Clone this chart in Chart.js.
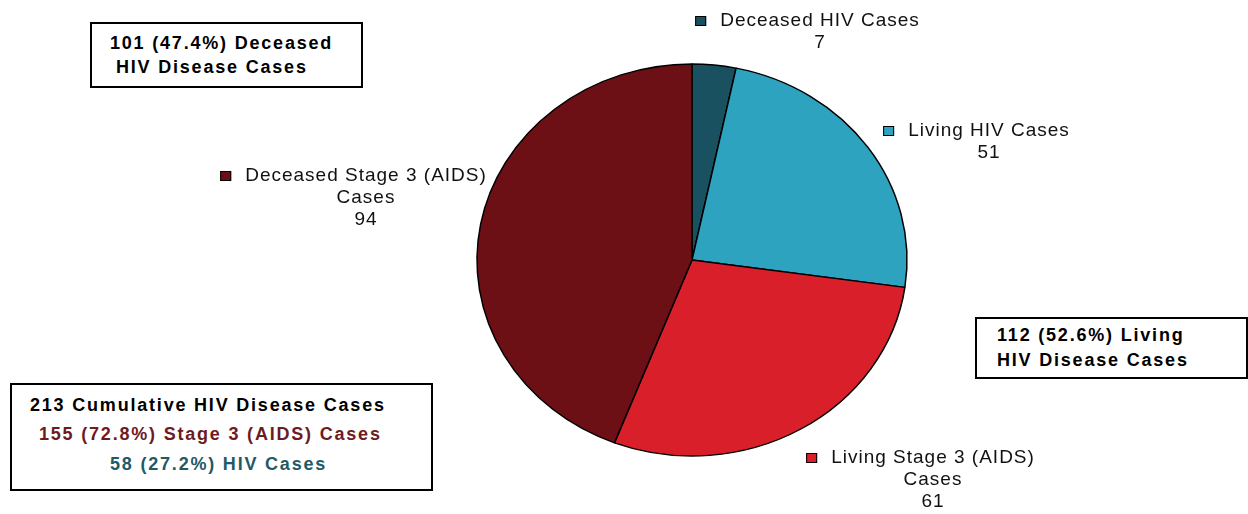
<!DOCTYPE html>
<html>
<head>
<meta charset="utf-8">
<script src="https://cdn.jsdelivr.net/npm/chart.js@4"></script>
<style>
    body { margin: 0; background: #fff; }
    #wrap { position: relative; width: 1248px; height: 514px; overflow: hidden; }
    canvas { position: absolute; left: 0; top: 0; }
    .box { position: absolute; border: 2px solid #000; box-sizing: border-box; background: #fff; }
    .line {
        position: absolute; white-space: pre; font: bold 18px "Liberation Sans", Arial, sans-serif;
        letter-spacing: 1.8px; line-height: 24px; color: #000;
    }
</style>
</head>
<body>
<div id="wrap">
    <canvas id="hivPie" width="1248" height="514"></canvas>
    <div class="box" style="left:90px; top:22px; width:273px; height:66px;"></div>
    <div class="line" id="decLine1" style="left:110px; top:31px;"></div>
    <div class="line" id="decLine2" style="left:116px; top:55px;"></div>

    <div class="box" style="left:975px; top:317px; width:273px; height:62px;"></div>
    <div class="line" id="livLine1" style="left:997px; top:323px;"></div>
    <div class="line" id="livLine2" style="left:997px; top:348px;"></div>

    <div class="box" style="left:10px; top:383px; width:423px; height:108px;"></div>
    <div class="line" id="cumLine1" style="left:30px; top:393px;"></div>
    <div class="line" id="cumLine2" style="left:39px; top:422px; color:#6e1a1f;"></div>
    <div class="line" id="cumLine3" style="left:110px; top:452px; color:#1f5a66;"></div>
</div>
<script>
document.addEventListener("DOMContentLoaded", () => {
    // slices, clockwise from 12 o'clock
    const categories = [
        ["Deceased HIV Cases"],
        ["Living HIV Cases"],
        ["Living Stage 3 (AIDS)", "Cases"],
        ["Deceased Stage 3 (AIDS)", "Cases"]
    ];
    const caseCounts = [7, 51, 61, 94];
    const sliceColors = ["#1a5161", "#2da3c0", "#d91f2a", "#6c1016"];

    // where each outside label sits: text centre x, first line y
    const labelSpots = [[820, 21], [989, 131], [933, 458], [366, 176]];
    const squash = 196 / 215; // the pie is a little flattened

    // Summary boxes
    const total = caseCounts.reduce((a, b) => a + b, 0);
    const deceased = caseCounts[0] + caseCounts[3];
    const living = caseCounts[1] + caseCounts[2];
    const stage3 = caseCounts[2] + caseCounts[3];
    const hivOnly = caseCounts[0] + caseCounts[1];
    const pct = n => (n / total * 100).toFixed(1) + "%";

    document.getElementById("decLine1").textContent = deceased + " (" + pct(deceased) + ") Deceased";
    document.getElementById("decLine2").textContent = "HIV Disease Cases";
    document.getElementById("livLine1").textContent = living + " (" + pct(living) + ") Living";
    document.getElementById("livLine2").textContent = "HIV Disease Cases";
    document.getElementById("cumLine1").textContent = total + " Cumulative HIV Disease Cases";
    document.getElementById("cumLine2").textContent = stage3 + " (" + pct(stage3) + ") Stage 3 (AIDS) Cases";
    document.getElementById("cumLine3").textContent = hivOnly + " (" + pct(hivOnly) + ") HIV Cases";

    const flattenPie = {
        id: "flattenPie",
        beforeDatasetsDraw(chart) {
            const arc = chart.getDatasetMeta(0).data[0];
            const ctx = chart.ctx;
            ctx.save();
            ctx.translate(0, arc.y * (1 - squash));
            ctx.scale(1, squash);
        },
        afterDatasetsDraw(chart) {
            chart.ctx.restore();
        }
    };

    const sliceLabels = {
        id: "sliceLabels",
        afterDraw(chart) {
            const ctx = chart.ctx;
            const values = chart.data.datasets[0].data;
            ctx.save();
            ctx.font = '19px "Liberation Sans", Arial, sans-serif';
            ctx.letterSpacing = "1px";
            ctx.textAlign = "center";
            ctx.textBaseline = "middle";
            chart.data.labels.forEach((lbl, i) => {
                const lines = [...lbl, String(values[i])];
                const [cx, y0] = labelSpots[i];
                lines.forEach((t, j) => {
                    ctx.fillStyle = "#111";
                    ctx.fillText(t, cx, y0 + j * 22);
                });
                const w = ctx.measureText(lines[0]).width;
                const x0 = cx - w / 2;
                ctx.fillStyle = sliceColors[i];
                ctx.fillRect(x0 - 25, y0 - 5, 11, 10);
                ctx.strokeStyle = "#000";
                ctx.lineWidth = 1;
                ctx.strokeRect(x0 - 25 + 0.5, y0 - 5 + 0.5, 10, 9);
            });
            ctx.restore();
        }
    };

    new Chart(document.getElementById("hivPie").getContext("2d"), {
        type: "pie",
        data: {
            labels: categories,
            datasets: [{
                data: caseCounts,
                backgroundColor: sliceColors,
                borderColor: "#000",
                borderWidth: 1.5
            }]
        },
        options: {
            responsive: false,
            animation: false,
            radius: 215,
            layout: { padding: { left: 136, top: 6, right: 0, bottom: 0 } },
            plugins: {
                legend: { display: false },
                tooltip: { enabled: false }
            }
        },
        plugins: [flattenPie, sliceLabels]
    });
});
</script>
</body>
</html>
